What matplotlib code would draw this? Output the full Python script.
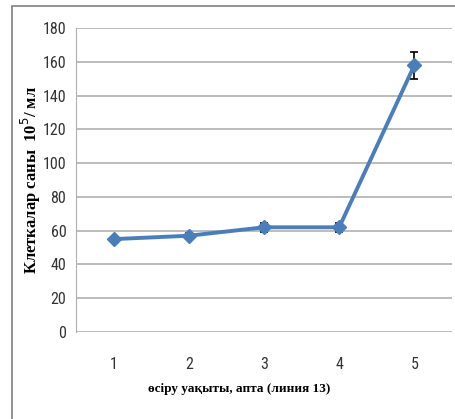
import matplotlib
matplotlib.use("Agg")
import matplotlib.pyplot as plt
from matplotlib import font_manager
from matplotlib.patches import Rectangle

weeks = ["1", "2", "3", "4", "5"]
cells = [55, 57, 62, 62, 158]
errors = [1.5, 1.5, 2.5, 2.5, 8]
yticks = [0, 20, 40, 60, 80, 100, 120, 140, 160, 180]

names = {f.name for f in font_manager.fontManager.ttflist}
narrow = "Liberation Sans"
for cand in ["Liberation Sans Narrow", "Arial Narrow", "Roboto Condensed", "DejaVu Sans Condensed"]:
    if cand in names:
        narrow = cand
        break
serif = "Liberation Serif"

fig = plt.figure(figsize=(4.56, 4.19), dpi=100)
ax = fig.add_axes([76/456, 1-332/419, (452-76)/456, (332-28)/419])

x = list(range(len(weeks)))
ax.plot(x, cells, color="#4a7ebb", lw=2.8, marker="D", ms=7, zorder=3)
ax.errorbar(x, cells, yerr=errors, fmt="none", ecolor="black", elinewidth=1.2,
            capsize=3, capthick=1.2, zorder=2)

ax.set_xlim(-0.5, 4.5)
ax.set_ylim(0, 180)
ax.set_yticks(yticks)
ax.set_xticks(x)
ax.set_xticklabels(weeks)
ax.grid(axis="y", color="#b0b0b0", lw=1.2)
ax.set_axisbelow(True)
for s in ["top", "right", "bottom"]:
    ax.spines[s].set_visible(False)
ax.spines["left"].set_color("#b0b0b0")
ax.tick_params(length=0, labelsize=11.5, pad=7)
ax.tick_params(axis="x", pad=18)
for lab in ax.get_xticklabels() + ax.get_yticklabels():
    lab.set_fontfamily(narrow)
    lab.set_color("#333333")

fig.text(239/456, 1-389/419, "өсіру уақыты, апта (линия 13)", family=serif,
         fontweight="bold", fontsize=9.5, ha="center", va="center")
fig.text(31/456, 1-180/419, "Клеткалар саны  10$^{5}$/ мл", family=serif,
         fontweight="bold", fontsize=12, rotation=90, ha="center", va="center")

fig.patches.append(Rectangle((12/456, -0.1), 1.2, 1-6/419+0.1, transform=fig.transFigure,
                             fill=False, edgecolor="#808080", lw=1.2))

fig.savefig("out.png", dpi=100)
